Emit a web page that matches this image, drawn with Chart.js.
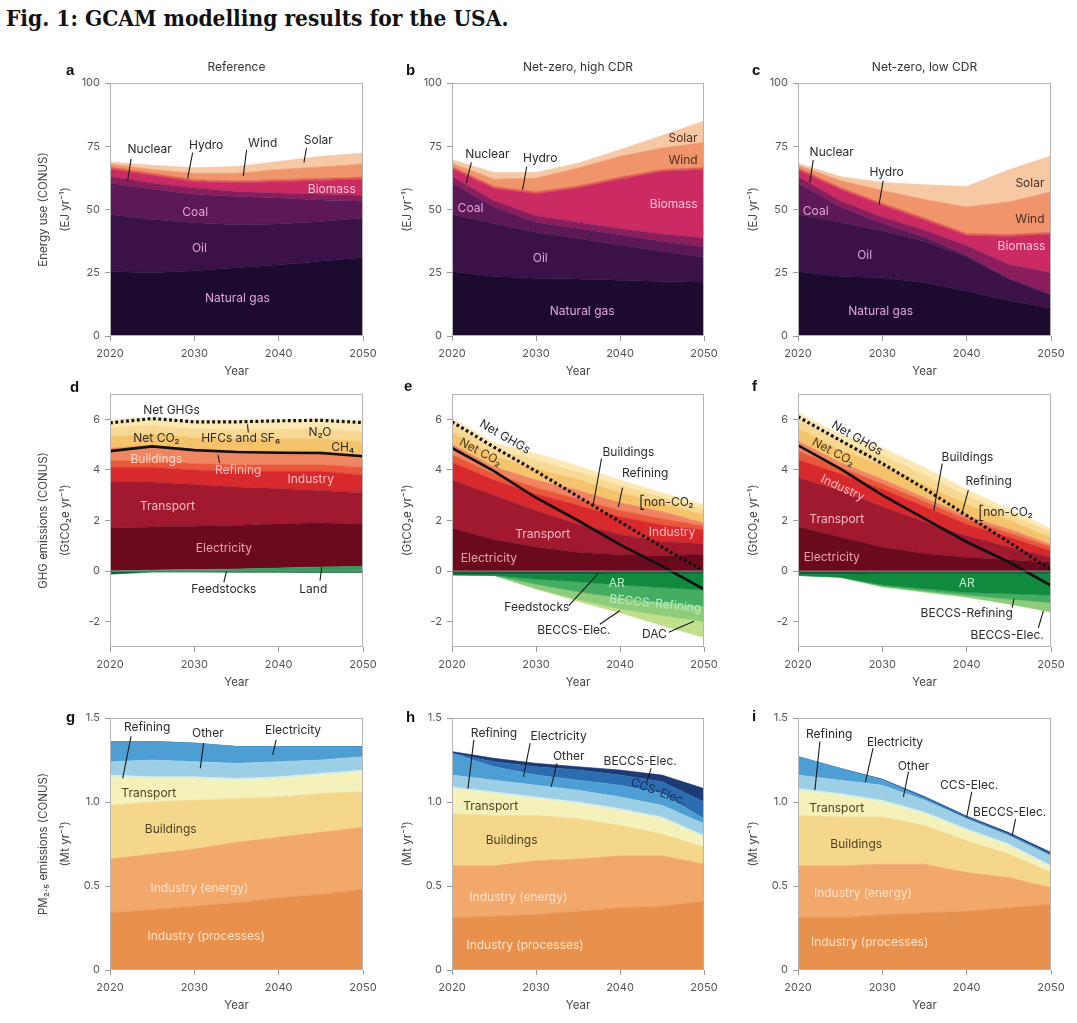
<!DOCTYPE html>
<html>
<head>
<meta charset="utf-8">
<script src="https://cdn.jsdelivr.net/npm/chart.js@4.4.1/dist/chart.umd.min.js"></script>
<style>
  body { margin: 0; background: #fff; width: 1077px; height: 1023px; position: relative; overflow: hidden; }
  #title { position: absolute; left: 6px; top: 5px; font: bold 22.5px "DejaVu Serif"; font-stretch: condensed; color: #111; white-space: nowrap; }
  canvas { position: absolute; }
</style>
</head>
<body>
<div id="title">Fig. 1: GCAM modelling results for the USA.</div>
<script>
const years = [2020, 2025, 2030, 2035, 2040, 2045, 2050];
const energyTicks = [0, 25, 50, 75, 100];
const ghgTicks = [-2, 0, 2, 4, 6];
const pmTicks = [0, 0.5, 1, 1.5];

// a-c: primary energy (EJ/yr), layer thickness from the bottom up
const aNaturalGas = [25.5, 25, 25.8, 27, 28.2, 29.5, 31];
const aOil = [22.5, 21, 19, 17, 16.1, 15.8, 15.5];
const aCoal = [12.5, 12, 11.2, 11.1, 10.2, 8.5, 6.8];
const aNuclear = [2.5, 2.5, 2.5, 2, 2, 2.2, 2.2];
const aBiomass = [3, 3, 2.5, 3.4, 4.5, 5.5, 6.5];
const aHydro = [0.8, 0.8, 0.8, 0.8, 0.8, 0.8, 0.8];
const aWind = [1.2, 1.5, 2.5, 3, 4, 4.5, 5.2];
const aSolar = [0.8, 1.7, 2.2, 2.7, 3.2, 4.2, 4.3];

const bNaturalGas = [25.5, 23.5, 22.8, 22.5, 22, 21.5, 21.2];
const bOil = [22.5, 21, 18.2, 16, 14, 12, 9.8];
const bCoal = [12.4, 6.5, 4, 4, 4, 4, 4.2];
const bNuclear = [2.6, 2.5, 2.5, 2.5, 2.5, 2.8, 3.5];
const bBiomass = [3.2, 4.8, 8.7, 13.5, 19.5, 24.7, 27.1];
const bHydro = [0.8, 0.8, 0.8, 0.8, 0.8, 0.8, 0.8];
const bWind = [1.3, 2.9, 5.4, 7.1, 8.2, 8.5, 9.9];
const bSolar = [1.4, 2.6, 2.2, 1.9, 2.6, 4.9, 8.5];

const cNaturalGas = [25.5, 23.5, 23, 21, 17.8, 14, 11];
const cOil = [22.5, 21.5, 18.5, 16.5, 13.5, 8.5, 5.2];
const cCoal = [12.5, 6, 3, 1.5, 0.7, 0.3, 0.2];
const cNuclear = [2.5, 2.5, 2.5, 2.8, 3.8, 5.5, 8.6];
const cBiomass = [2.7, 4.5, 4.7, 4, 3.9, 11, 15.2];
const cHydro = [0.8, 0.8, 0.8, 0.8, 0.8, 0.8, 0.8];
const cWind = [1, 2.7, 5, 7.4, 10.5, 12.9, 16];
const cSolar = [0.8, 1.5, 3.2, 5.8, 8.1, 12.7, 14.2];

// d-f: GHG emissions (GtCO2e/yr)
const dFeedstocks = [-0.12, -0.04, -0.04, -0.05, -0.05, -0.06, -0.06];
const dLand = [0, 0.04, 0.06, 0.08, 0.12, 0.16, 0.18];
const dElectricity = [1.7, 1.7, 1.71, 1.72, 1.75, 1.75, 1.67];
const dTransport = [1.85, 1.78, 1.65, 1.52, 1.39, 1.28, 1.24];
const dIndustry = [0.55, 0.58, 0.58, 0.63, 0.69, 0.76, 0.71];
const dRefining = [0.25, 0.25, 0.25, 0.25, 0.25, 0.25, 0.3];
const dBuildings = [0.51, 0.62, 0.57, 0.56, 0.53, 0.53, 0.5];
const dCH4 = [0.45, 0.45, 0.45, 0.47, 0.5, 0.5, 0.52];
const dN2O = [0.35, 0.35, 0.35, 0.37, 0.38, 0.39, 0.4];
const dHFC = [0.32, 0.3, 0.32, 0.35, 0.38, 0.4, 0.41];

const eFeedstocks = [-0.12, -0.12, -0.12, -0.12, -0.1, -0.1, -0.1];
const eAR = [-0.03, -0.05, -0.2, -0.3, -0.45, -0.55, -0.65];
const eBeccsRefining = [0, 0, -0.2, -0.4, -0.5, -0.6, -0.65];
const eBeccsElec = [0, 0, -0.18, -0.3, -0.45, -0.5, -0.6];
const eDAC = [0, 0, 0, -0.08, -0.15, -0.4, -0.62];
const eElectricity = [1.7, 1.25, 0.95, 0.75, 0.65, 0.62, 0.65];
const eTransport = [1.9, 1.75, 1.45, 1.1, 0.8, 0.55, 0.43];
const eIndustry = [0.7, 0.6, 0.65, 0.75, 0.7, 0.65, 0.55];
const eRefining = [0.3, 0.25, 0.25, 0.25, 0.25, 0.25, 0.15];
const eBuildings = [0.42, 0.27, 0.3, 0.35, 0.3, 0.28, 0.12];
const eCH4 = [0.45, 0.42, 0.45, 0.42, 0.4, 0.33, 0.32];
const eN2O = [0.33, 0.3, 0.33, 0.3, 0.28, 0.24, 0.23];
const eHFC = [0.25, 0.23, 0.27, 0.23, 0.22, 0.18, 0.17];

const fFeedstocks = [-0.12, -0.12, -0.1, -0.1, -0.1, -0.1, -0.1];
const fAR = [-0.05, -0.12, -0.45, -0.6, -0.75, -0.8, -0.85];
const fBeccsRefining = [0, 0, -0.04, -0.08, -0.1, -0.2, -0.3];
const fBeccsElec = [0, 0, -0.04, -0.05, -0.08, -0.2, -0.37];
const fElectricity = [1.75, 1.35, 0.95, 0.7, 0.55, 0.45, 0.35];
const fTransport = [1.95, 1.85, 1.6, 1.25, 0.85, 0.5, 0.2];
const fIndustry = [0.7, 0.65, 0.7, 0.6, 0.45, 0.4, 0.25];
const fRefining = [0.35, 0.25, 0.2, 0.2, 0.2, 0.17, 0.15];
const fBuildings = [0.39, 0.19, 0.18, 0.15, 0.13, 0.14, 0.1];
const fCH4 = [0.5, 0.5, 0.55, 0.52, 0.46, 0.35, 0.27];
const fN2O = [0.35, 0.35, 0.4, 0.38, 0.34, 0.25, 0.2];
const fHFC = [0.28, 0.27, 0.3, 0.29, 0.25, 0.19, 0.15];

// g-i: PM2.5 emissions (Mt/yr)
const gIndProcesses = [0.34, 0.36, 0.38, 0.4, 0.43, 0.45, 0.48];
const gIndEnergy = [0.32, 0.33, 0.34, 0.36, 0.36, 0.37, 0.37];
const gBuildings = [0.32, 0.31, 0.29, 0.26, 0.24, 0.23, 0.21];
const gTransport = [0.17, 0.14, 0.13, 0.11, 0.11, 0.11, 0.12];
const gRefining = [0.01, 0.01, 0.01, 0.01, 0.01, 0.01, 0.01];
const gOther = [0.08, 0.1, 0.09, 0.09, 0.09, 0.08, 0.08];
const gElectricity = [0.12, 0.11, 0.11, 0.1, 0.09, 0.08, 0.06];

const hIndProcesses = [0.31, 0.32, 0.33, 0.35, 0.37, 0.38, 0.41];
const hIndEnergy = [0.31, 0.3, 0.32, 0.31, 0.31, 0.3, 0.22];
const hBuildings = [0.31, 0.3, 0.27, 0.24, 0.18, 0.13, 0.1];
const hTransport = [0.15, 0.13, 0.1, 0.09, 0.09, 0.09, 0.06];
const hRefining = [0.01, 0.01, 0.01, 0.01, 0.01, 0.01, 0.01];
const hOther = [0.07, 0.07, 0.07, 0.07, 0.07, 0.07, 0.07];
const hElectricity = [0.13, 0.08, 0.06, 0.06, 0.07, 0.07, 0.03];
const hCcsElec = [0, 0.03, 0.05, 0.06, 0.06, 0.07, 0.1];
const hBeccsElec = [0.01, 0.02, 0.02, 0.02, 0.03, 0.04, 0.08];

const iIndProcesses = [0.31, 0.31, 0.33, 0.34, 0.35, 0.37, 0.39];
const iIndEnergy = [0.31, 0.31, 0.3, 0.29, 0.23, 0.18, 0.1];
const iBuildings = [0.3, 0.29, 0.28, 0.23, 0.19, 0.14, 0.09];
const iTransport = [0.15, 0.13, 0.09, 0.07, 0.06, 0.05, 0.03];
const iRefining = [0.01, 0.01, 0.01, 0.01, 0.01, 0.01, 0.01];
const iOther = [0.08, 0.08, 0.09, 0.07, 0.06, 0.05, 0.06];
const iElectricity = [0.11, 0.07, 0.03, 0.01, 0, 0, 0];
const iCcsElec = [0, 0, 0.005, 0.008, 0.01, 0.01, 0.01];
const iBeccsElec = [0, 0, 0, 0.004, 0.006, 0.008, 0.01];

// colours
const EN = { gas: '#1c0a2f', oil: '#3b1147', coal: '#5c1857', nuclear: '#8b1d5c', biomass: '#cb2a63', hydro: '#e05a4e', wind: '#f0956b', solar: '#f7c8a4' };
const GH = { feed: '#0c6236', land: '#2f9e5c', ar: '#11893f', beccsRef: '#45ad62', beccsElec: '#8fcd7a', dac: '#c2e08c',
  elec: '#6c0a1d', transport: '#a1192f', industry: '#d82a2d', refining: '#eb573b', buildings: '#f08562', ch4: '#f5c36c', n2o: '#f8d993', hfc: '#fbe8b3' };
const PM = { proc: '#e8914d', energy: '#f1a86a', buildings: '#f5d78c', transport: '#f4f1bb', refining: '#d4ecea', other: '#9ccfe5', elec: '#4d9ed3', ccs: '#2c6cb0', beccs: '#1c3b74' };

const DARK = '#2a2a2a', LAV = '#e2a6dc', PINK = '#f7c3d4', BROWN = '#4d2c22', ROSE = '#f6bcc2', OLIVE = '#4b4322', CREAM = '#fde2cb', MINT = '#bdf0c8';

const sum = arrs => years.map((_, i) => arrs.reduce((s, a) => s + a[i], 0));

function areaSets(pos, neg) {
  const out = [];
  [pos, neg].forEach(group => {
    let acc = years.map(() => 0);
    group.forEach(([name, vals, color], k) => {
      acc = acc.map((v, i) => v + vals[i]);
      out.push({ label: name, data: years.map((yr, i) => ({ x: yr, y: acc[i] })), backgroundColor: color,
        borderColor: color, borderWidth: 0.6, fill: k === 0 ? 'origin' : '-1', pointRadius: 0, tension: 0 });
    });
  });
  return out;
}

function lineSet(vals, dotted) {
  return { label: dotted ? 'Net GHGs' : 'Net CO2', data: years.map((yr, i) => ({ x: yr, y: vals[i] })), fill: false,
    borderColor: '#111', borderWidth: dotted ? 3.2 : 2.6, borderDash: dotted ? [2.8, 2.6] : [], borderCapStyle: 'butt',
    pointRadius: 0, tension: 0, order: -1 };
}

const L = (text, x, y, color, rot) => ({ text, x, y, color: color || DARK, rot: rot || 0 });

const decor = {
  id: 'decor',
  afterDatasetsDraw(chart) {
    const p = chart.options.plugins.decor;
    const { ctx, chartArea: ca } = chart;
    const sx = chart.scales.x, sy = chart.scales.y;
    const X = v => sx.getPixelForValue(v), Y = v => sy.getPixelForValue(v);
    ctx.save();
    ctx.strokeStyle = '#b4b4b4';
    ctx.lineWidth = 1;
    ctx.strokeRect(Math.round(ca.left) + 0.5, Math.round(ca.top) + 0.5, Math.round(ca.width) - 1, Math.round(ca.height) - 1);
    if (p.zero) {
      ctx.strokeStyle = '#8d8d8d';
      ctx.beginPath(); ctx.moveTo(ca.left, Y(0)); ctx.lineTo(ca.right, Y(0)); ctx.stroke();
    }
    ctx.strokeStyle = '#1a1a1a';
    ctx.lineWidth = 1.1;
    (p.pointers || []).forEach(([x1, y1, x2, y2]) => {
      ctx.beginPath(); ctx.moveTo(X(x1), Y(y1)); ctx.lineTo(X(x2), Y(y2)); ctx.stroke();
    });
    ctx.textBaseline = 'middle';
    ctx.font = '12px Inter, "DejaVu Sans"';
    if (p.bracket) {
      const [bx, top, bot, ty] = p.bracket;
      ctx.beginPath();
      ctx.moveTo(X(bx) + 3, Y(top)); ctx.lineTo(X(bx), Y(top)); ctx.lineTo(X(bx), Y(bot)); ctx.lineTo(X(bx) + 3, Y(bot));
      ctx.stroke();
      ctx.fillStyle = DARK; ctx.textAlign = 'left';
      ctx.fillText('non-CO₂', X(bx) + 3, Y(ty));
    }
    ctx.textAlign = 'center';
    (p.labels || []).forEach(l => {
      ctx.save();
      ctx.translate(X(l.x), Y(l.y));
      ctx.rotate(l.rot * Math.PI / 180);
      ctx.fillStyle = l.color;
      ctx.fillText(l.text, 0, 0);
      ctx.restore();
    });
    // panel letter, heading, axis titles
    ctx.fillStyle = '#111';
    ctx.font = 'bold 15px "Liberation Sans", Arial';
    ctx.textAlign = 'left';
    ctx.fillText(p.letter, ca.left - p.letterDx, ca.top + p.letterDy);
    ctx.fillStyle = '#333';
    ctx.font = '12px Inter, "DejaVu Sans"';
    ctx.textAlign = 'center';
    if (p.heading) ctx.fillText(p.heading, (ca.left + ca.right) / 2, ca.top - 16);
    ctx.fillStyle = '#444';
    ctx.font = '11.5px Inter, "DejaVu Sans"';
    ctx.fillText('Year', (ca.left + ca.right) / 2, ca.bottom + 36);
    p.yTitle.forEach((t, k) => {
      ctx.save();
      ctx.translate(ca.left - (p.yTitle.length === 2 && k === 0 ? 66 : 44), (ca.top + ca.bottom) / 2);
      ctx.rotate(-Math.PI / 2);
      ctx.fillText(t, 0, 0);
      ctx.restore();
    });
    ctx.restore();
  }
};

const cols = [{ l: 110, r: 363, cl: 0 }, { l: 452, r: 704, cl: 382 }, { l: 798, r: 1051, cl: 728 }];
const rows = [
  { t: 83, b: 336, ct: 50, cb: 388, min: 0, max: 100, ticks: energyTicks, fmt: v => String(v) },
  { t: 394, b: 647, ct: 378, cb: 698, min: -3, max: 7, ticks: ghgTicks, fmt: v => String(v) },
  { t: 718, b: 970, ct: 700, cb: 1023, min: 0, max: 1.5, ticks: pmTicks, fmt: v => v === 0 ? '0' : v.toFixed(1) }
];

function makePanel(ri, ci, datasets, extra) {
  const r = rows[ri], c = cols[ci];
  const cr = c.r + 22;
  const cv = document.createElement('canvas');
  cv.width = cr - c.cl; cv.height = r.cb - r.ct;
  cv.style.left = c.cl + 'px'; cv.style.top = r.ct + 'px';
  document.body.appendChild(cv);
  const tickFont = { family: 'Inter, "DejaVu Sans"', size: 11 };
  new Chart(cv, {
    type: 'line',
    data: { datasets },
    options: {
      responsive: false, animation: false, events: [],
      layout: { padding: { left: 0, right: cr - c.r, top: r.t - r.ct, bottom: 0 } },
      plugins: { legend: { display: false }, tooltip: { enabled: false }, decor: extra },
      scales: {
        x: { type: 'linear', min: 2020, max: 2050, afterFit: s => { s.height = r.cb - r.b; },
          ticks: { stepSize: 10, callback: v => String(v), font: tickFont, color: '#555', padding: 6, maxRotation: 0, autoSkip: false },
          grid: { drawOnChartArea: false, tickLength: 5, color: '#999' }, border: { display: false } },
        y: { type: 'linear', min: r.min, max: r.max, afterFit: s => { s.width = c.l - c.cl; },
          afterBuildTicks: s => { s.ticks = r.ticks.map(v => ({ value: v })); },
          ticks: { callback: r.fmt, font: tickFont, color: '#555', padding: 5 },
          grid: { drawOnChartArea: false, tickLength: 5, color: '#999' }, border: { display: false } }
      }
    },
    plugins: [decor]
  });
}

Chart.defaults.font.family = 'Inter, "DejaVu Sans"';

// row 1: energy
const energy = (g, o, co, n, bi, hy, w, s) => areaSets([
  ['Natural gas', g, EN.gas], ['Oil', o, EN.oil], ['Coal', co, EN.coal], ['Nuclear', n, EN.nuclear],
  ['Biomass', bi, EN.biomass], ['Hydro', hy, EN.hydro], ['Wind', w, EN.wind], ['Solar', s, EN.solar]], []);

makePanel(0, 0, energy(aNaturalGas, aOil, aCoal, aNuclear, aBiomass, aHydro, aWind, aSolar), {
  letter: 'a', letterDx: 44, letterDy: -12, heading: 'Reference', yTitle: ['Energy use (CONUS)', '(EJ yr⁻¹)'],
  labels: [L('Nuclear', 2024.7, 73.9), L('Hydro', 2031.4, 75.3), L('Wind', 2038.1, 76), L('Solar', 2044.7, 77.3),
    L('Biomass', 2046.3, 57.8, PINK), L('Coal', 2030.1, 48.9, LAV), L('Oil', 2030.6, 34.7, LAV), L('Natural gas', 2035.1, 14.9, LAV)],
  pointers: [[2022.5, 70, 2022.1, 61.5], [2029.8, 72.5, 2029.2, 62.3], [2036.2, 73.6, 2035.8, 63.3], [2043.3, 74.4, 2043, 68.6]]
});
makePanel(0, 1, energy(bNaturalGas, bOil, bCoal, bNuclear, bBiomass, bHydro, bWind, bSolar), {
  letter: 'b', letterDx: 46, letterDy: -12, heading: 'Net-zero, high CDR', yTitle: ['(EJ yr⁻¹)'],
  labels: [L('Nuclear', 2024.2, 71.9), L('Hydro', 2030.5, 70.3), L('Solar', 2047.5, 78.2, BROWN), L('Wind', 2047.5, 69.3, BROWN),
    L('Biomass', 2046.4, 52.2, PINK), L('Coal', 2022.2, 50.5, LAV), L('Oil', 2030.5, 30.7, LAV), L('Natural gas', 2035.5, 9.6, LAV)],
  pointers: [[2022.3, 68.6, 2021.7, 60.5], [2028.9, 67, 2028.4, 57.8]]
});
makePanel(0, 2, energy(cNaturalGas, cOil, cCoal, cNuclear, cBiomass, cHydro, cWind, cSolar), {
  letter: 'c', letterDx: 46, letterDy: -12, heading: 'Net-zero, low CDR', yTitle: ['(EJ yr⁻¹)'],
  labels: [L('Nuclear', 2024, 72.6), L('Hydro', 2030.5, 64.6), L('Solar', 2047.5, 60.4, BROWN), L('Wind', 2047.5, 46.2, BROWN),
    L('Biomass', 2046.5, 35.4, PINK), L('Coal', 2022.1, 49.2, LAV), L('Oil', 2027.9, 31.7, LAV), L('Natural gas', 2029.8, 9.6, LAV)],
  pointers: [[2021.8, 69.5, 2021.4, 60.5], [2030.1, 61.3, 2029.6, 51.8]]
});

// row 2: GHG
const co2Pos = (el, tr, ind, ref, bu) => [['Electricity', el, GH.elec], ['Transport', tr, GH.transport], ['Industry', ind, GH.industry],
  ['Refining', ref, GH.refining], ['Buildings', bu, GH.buildings]];
const nonCo2 = (ch4, n2o, hfc) => [['CH4', ch4, GH.ch4], ['N2O', n2o, GH.n2o], ['HFCs and SF6', hfc, GH.hfc]];

const dNetCO2 = sum([dFeedstocks, dLand, dElectricity, dTransport, dIndustry, dRefining, dBuildings]);
const dNetGHG = sum([dNetCO2, dCH4, dN2O, dHFC]);
makePanel(1, 0, [...areaSets([['Land', dLand, GH.land], ...co2Pos(dElectricity, dTransport, dIndustry, dRefining, dBuildings),
    ...nonCo2(dCH4, dN2O, dHFC)], [['Feedstocks', dFeedstocks, GH.feed]]), lineSet(dNetCO2, false), lineSet(dNetGHG, true)], {
  letter: 'd', letterDx: 40, letterDy: -6, zero: true, yTitle: ['GHG emissions (CONUS)', '(GtCO₂e yr⁻¹)'],
  labels: [L('Net GHGs', 2027.3, 6.36), L('Net CO₂', 2025.5, 5.24), L('HFCs and SF₆', 2035.5, 5.24), L('N₂O', 2044.9, 5.47),
    L('CH₄', 2047.6, 4.9), L('Buildings', 2025.5, 4.42, '#fbd8c8'), L('Refining', 2035.2, 3.98, ROSE), L('Industry', 2043.8, 3.63, ROSE),
    L('Transport', 2026.8, 2.57, ROSE), L('Electricity', 2033.5, 0.88, '#e8a4ac'), L('Feedstocks', 2033.5, -0.72), L('Land', 2044.1, -0.72)],
  pointers: [[2036.4, 5.48, 2036.3, 5.8], [2033, 4.28, 2032.8, 4.58], [2033.5, -0.44, 2033.8, -0.02], [2044.9, -0.38, 2045.1, 0.15]]
});

const eNetCO2 = sum([eFeedstocks, eAR, eBeccsRefining, eBeccsElec, eDAC, eElectricity, eTransport, eIndustry, eRefining, eBuildings]);
const eNetGHG = sum([eNetCO2, eCH4, eN2O, eHFC]);
makePanel(1, 1, [...areaSets([...co2Pos(eElectricity, eTransport, eIndustry, eRefining, eBuildings), ...nonCo2(eCH4, eN2O, eHFC)],
    [['Feedstocks', eFeedstocks, GH.feed], ['AR', eAR, GH.ar], ['BECCS-Refining', eBeccsRefining, GH.beccsRef],
     ['BECCS-Elec.', eBeccsElec, GH.beccsElec], ['DAC', eDAC, GH.dac]]), lineSet(eNetCO2, false), lineSet(eNetGHG, true)], {
  letter: 'e', letterDx: 48, letterDy: -7, zero: true, yTitle: ['(GtCO₂e yr⁻¹)'], bracket: [2042.5, 3.0, 2.44, 2.73],
  labels: [L('Net GHGs', 2026.3, 5.3, DARK, 30), L('Net CO₂', 2023.4, 4.7, '#4a3b22', 28), L('Buildings', 2041, 4.71),
    L('Refining', 2043, 3.88), L('Industry', 2046.2, 1.54, ROSE), L('Transport', 2030.8, 1.44, ROSE), L('Electricity', 2024.4, 0.49, '#e8a4ac'),
    L('AR', 2039.6, -0.47, MINT), L('BECCS-Refining', 2044.2, -1.29, MINT, 6), L('Feedstocks', 2030.1, -1.42),
    L('BECCS-Elec.', 2034.5, -2.35), L('DAC', 2044.1, -2.52)],
  pointers: [[2037.8, 4.45, 2036.8, 2.6], [2040.3, 3.3, 2039.8, 2.53], [2033.9, -1.36, 2037.4, -0.1], [2037.6, -2.1, 2040, -1.56], [2045.8, -2.42, 2048.8, -1.98]]
});

const fNetCO2 = sum([fFeedstocks, fAR, fBeccsRefining, fBeccsElec, fElectricity, fTransport, fIndustry, fRefining, fBuildings]);
const fNetGHG = sum([fNetCO2, fCH4, fN2O, fHFC]);
makePanel(1, 2, [...areaSets([...co2Pos(fElectricity, fTransport, fIndustry, fRefining, fBuildings), ...nonCo2(fCH4, fN2O, fHFC)],
    [['Feedstocks', fFeedstocks, GH.feed], ['AR', fAR, GH.ar], ['BECCS-Refining', fBeccsRefining, GH.beccsRef],
     ['BECCS-Elec.', fBeccsElec, GH.beccsElec]]), lineSet(fNetCO2, false), lineSet(fNetGHG, true)], {
  letter: 'f', letterDx: 46, letterDy: -7, zero: true, yTitle: ['(GtCO₂e yr⁻¹)'], bracket: [2041.6, 2.6, 2.0, 2.33],
  labels: [L('Net GHGs', 2027, 5.25, DARK, 30), L('Net CO₂', 2024.2, 4.7, '#4a3b22', 28), L('Industry', 2025.3, 3.28, ROSE, 25),
    L('Buildings', 2040.1, 4.51), L('Refining', 2042.6, 3.55), L('Transport', 2024.6, 2.04, ROSE), L('Electricity', 2024, 0.55, '#e8a4ac'),
    L('AR', 2040, -0.5, MINT), L('BECCS-Refining', 2040, -1.69), L('BECCS-Elec.', 2044.8, -2.55)],
  pointers: [[2037.1, 4.25, 2036.1, 2.4], [2040.2, 3.2, 2039.4, 2.23], [2045.4, -1.44, 2045.6, -1.1], [2048.5, -2.24, 2049.1, -1.56]]
});

// row 3: PM2.5
const pm = (pr, en, bu, tr, re, ot, el, ccs, bec) => areaSets([['Industry (processes)', pr, PM.proc], ['Industry (energy)', en, PM.energy],
  ['Buildings', bu, PM.buildings], ['Transport', tr, PM.transport], ['Refining', re, PM.refining], ['Other', ot, PM.other],
  ['Electricity', el, PM.elec], ['CCS-Elec.', ccs, PM.ccs], ['BECCS-Elec.', bec, PM.beccs]], []);
const zeros = years.map(() => 0);

makePanel(2, 0, pm(gIndProcesses, gIndEnergy, gBuildings, gTransport, gRefining, gOther, gElectricity, zeros, zeros), {
  letter: 'g', letterDx: 44, letterDy: 0, yTitle: ['PM₂.₅ emissions (CONUS)', '(Mt yr⁻¹)'],
  labels: [L('Refining', 2024.4, 1.446), L('Other', 2031.6, 1.41), L('Electricity', 2041.7, 1.425), L('Transport', 2024.6, 1.054, OLIVE),
    L('Buildings', 2027.2, 0.836, OLIVE), L('Industry (energy)', 2030.6, 0.483, CREAM), L('Industry (processes)', 2031.4, 0.202, CREAM)],
  pointers: [[2022.5, 1.39, 2021.5, 1.14], [2031.1, 1.35, 2030.7, 1.2], [2039.7, 1.37, 2039.3, 1.28]]
});
makePanel(2, 1, pm(hIndProcesses, hIndEnergy, hBuildings, hTransport, hRefining, hOther, hElectricity, hCcsElec, hBeccsElec), {
  letter: 'h', letterDx: 46, letterDy: 0, yTitle: ['(Mt yr⁻¹)'],
  labels: [L('Refining', 2025, 1.41), L('Electricity', 2032.7, 1.39), L('Other', 2033.9, 1.27), L('BECCS-Elec.', 2042.4, 1.24),
    L('CCS-Elec.', 2044.6, 1.06, '#1c2f5a', 20), L('Transport', 2024.6, 0.976, OLIVE), L('Buildings', 2027.1, 0.77, OLIVE),
    L('Industry (energy)', 2027.9, 0.434, CREAM), L('Industry (processes)', 2028.7, 0.145, CREAM)],
  pointers: [[2022.6, 1.37, 2021.9, 1.08], [2029.3, 1.35, 2028.5, 1.15], [2032.5, 1.23, 2031.8, 1.09], [2043.7, 1.2, 2043.2, 1.12]]
});
makePanel(2, 2, pm(iIndProcesses, iIndEnergy, iBuildings, iTransport, iRefining, iOther, iElectricity, iCcsElec, iBeccsElec), {
  letter: 'i', letterDx: 46, letterDy: -1, yTitle: ['(Mt yr⁻¹)'],
  labels: [L('Refining', 2023.7, 1.4), L('Electricity', 2031.5, 1.355), L('Other', 2033.7, 1.21), L('CCS-Elec.', 2040.3, 1.1),
    L('BECCS-Elec.', 2045.1, 0.94), L('Transport', 2024.6, 0.96, OLIVE), L('Buildings', 2026.9, 0.75, OLIVE),
    L('Industry (energy)', 2027.7, 0.454, CREAM), L('Industry (processes)', 2028.5, 0.165, CREAM)],
  pointers: [[2022.6, 1.36, 2022, 1.07], [2028.9, 1.32, 2028, 1.12], [2033.1, 1.18, 2032.5, 1.03], [2040.6, 1.06, 2040, 0.91], [2045.8, 0.9, 2045.4, 0.8]]
});
</script>
</body>
</html>
